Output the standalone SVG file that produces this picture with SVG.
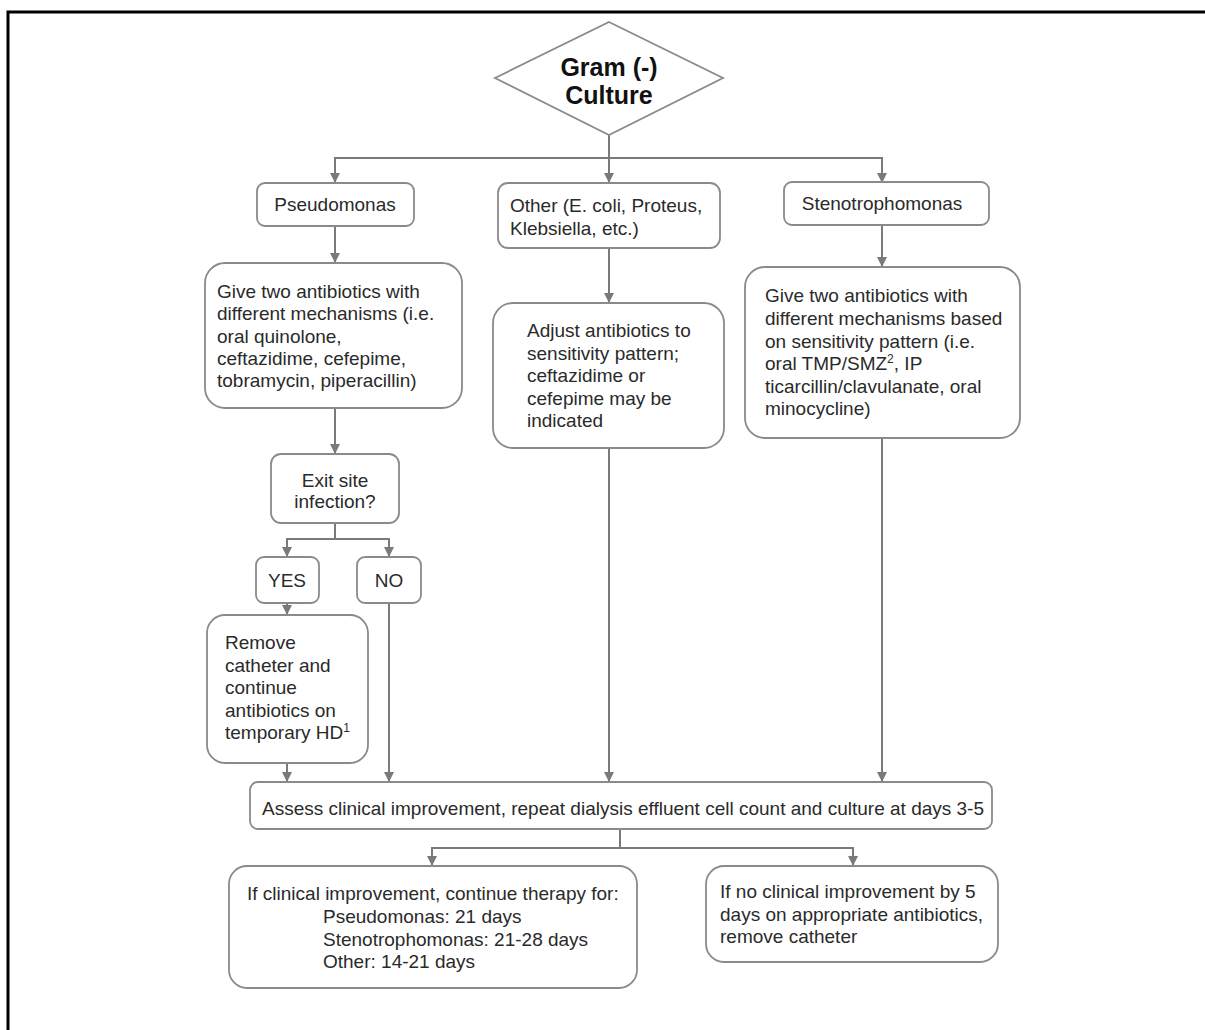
<svg xmlns="http://www.w3.org/2000/svg" width="1205" height="1030" viewBox="0 0 1205 1030">
<style>
  .box{fill:#fff;stroke:#8a8a8a;stroke-width:1.8}
  .t{font-family:"Liberation Sans",Arial,sans-serif;font-size:19px;fill:#2a2a2a}
  .c{text-anchor:middle}
  .title{font-family:"Liberation Sans",Arial,sans-serif;font-size:25px;font-weight:bold;fill:#111;text-anchor:middle}
  .sup{font-size:12px}
  .conn{fill:none;stroke:#7a7a7a;stroke-width:2}
</style>
<defs>
  <marker id="arr" markerUnits="userSpaceOnUse" markerWidth="12" markerHeight="12" refX="10" refY="6" orient="auto">
    <path d="M0,1 L10,6 L0,11 Z" fill="#7a7a7a"/>
  </marker>
</defs>
<rect width="1205" height="1030" fill="#fff"/>
<path d="M8,1030 V12 H1205" fill="none" stroke="#000" stroke-width="3"/>

<g id="connectors">
  <path class="conn" d="M609,135 V183" marker-end="url(#arr)"/>
  <path class="conn" d="M335,183 V158 H882 V183" />
  <path class="conn" d="M335,158 V183" marker-end="url(#arr)"/>
  <path class="conn" d="M882,158 V183" marker-end="url(#arr)"/>
  <path class="conn" d="M335,226 V263" marker-end="url(#arr)"/>
  <path class="conn" d="M609,248 V303" marker-end="url(#arr)"/>
  <path class="conn" d="M882,225 V267" marker-end="url(#arr)"/>
  <path class="conn" d="M335,408 V454" marker-end="url(#arr)"/>
  <path class="conn" d="M335,523 V539 H389 V557" marker-end="url(#arr)"/>
  <path class="conn" d="M335,539 H287 V557" marker-end="url(#arr)"/>
  <path class="conn" d="M287,603 V615" marker-end="url(#arr)"/>
  <path class="conn" d="M389,603 V782" marker-end="url(#arr)"/>
  <path class="conn" d="M287,763 V782" marker-end="url(#arr)"/>
  <path class="conn" d="M609,448 V782" marker-end="url(#arr)"/>
  <path class="conn" d="M882,438 V782" marker-end="url(#arr)"/>
  <path class="conn" d="M620,829 V848 H853 V866" marker-end="url(#arr)"/>
  <path class="conn" d="M620,848 H432 V866" marker-end="url(#arr)"/>
</g>

<g id="start">
  <polygon class="box" points="609,22 723,78 609,135 495,78"/>
  <text class="title" x="609" y="76">Gram (-)</text>
  <text class="title" x="609" y="104">Culture</text>
</g>

<g id="pseudomonas">
  <rect class="box" x="257" y="183" width="157" height="43" rx="8"/>
  <text class="t c" x="335" y="211">Pseudomonas</text>
</g>

<g id="other">
  <rect class="box" x="498" y="183" width="222" height="65" rx="10"/>
  <text class="t" x="510" y="212">Other (E. coli, Proteus,</text>
  <text class="t" x="510" y="235">Klebsiella, etc.)</text>
</g>

<g id="steno">
  <rect class="box" x="784" y="182" width="205" height="43" rx="8"/>
  <text class="t c" x="882" y="210">Stenotrophomonas</text>
</g>

<g id="pseudo-abx">
  <rect class="box" x="205" y="263" width="257" height="145" rx="20"/>
  <text class="t" x="217" y="298">Give two antibiotics with</text>
  <text class="t" x="217" y="320">different mechanisms (i.e.</text>
  <text class="t" x="217" y="343">oral quinolone,</text>
  <text class="t" x="217" y="365">ceftazidime, cefepime,</text>
  <text class="t" x="217" y="387">tobramycin, piperacillin)</text>
</g>

<g id="adjust">
  <rect class="box" x="493" y="303" width="231" height="145" rx="20"/>
  <text class="t" x="527" y="337">Adjust antibiotics to</text>
  <text class="t" x="527" y="360">sensitivity pattern;</text>
  <text class="t" x="527" y="382">ceftazidime or</text>
  <text class="t" x="527" y="405">cefepime may be</text>
  <text class="t" x="527" y="427">indicated</text>
</g>

<g id="steno-abx">
  <rect class="box" x="745" y="267" width="275" height="171" rx="20"/>
  <text class="t" x="765" y="302">Give two antibiotics with</text>
  <text class="t" x="765" y="325">different mechanisms based</text>
  <text class="t" x="765" y="348">on sensitivity pattern (i.e.</text>
  <text class="t" x="765" y="370">oral TMP/SMZ<tspan class="sup" dy="-7">2</tspan><tspan dy="7">, IP</tspan></text>
  <text class="t" x="765" y="393">ticarcillin/clavulanate, oral</text>
  <text class="t" x="765" y="415">minocycline)</text>
</g>

<g id="exit">
  <rect class="box" x="271" y="454" width="128" height="69" rx="10"/>
  <text class="t c" x="335" y="487">Exit site</text>
  <text class="t c" x="335" y="508">infection?</text>
</g>

<g id="yes">
  <rect class="box" x="256" y="557" width="63" height="46" rx="8"/>
  <text class="t c" x="287" y="587">YES</text>
</g>

<g id="no">
  <rect class="box" x="357" y="557" width="64" height="46" rx="8"/>
  <text class="t c" x="389" y="587">NO</text>
</g>

<g id="remove">
  <rect class="box" x="207" y="615" width="161" height="148" rx="18"/>
  <text class="t" x="225" y="649">Remove</text>
  <text class="t" x="225" y="672">catheter and</text>
  <text class="t" x="225" y="694">continue</text>
  <text class="t" x="225" y="717">antibiotics on</text>
  <text class="t" x="225" y="739">temporary HD<tspan class="sup" dy="-7">1</tspan></text>
</g>

<g id="assess">
  <rect class="box" x="250" y="782" width="742" height="47" rx="8"/>
  <text class="t" x="262" y="815">Assess clinical improvement, repeat dialysis effluent cell count and culture at days 3-5</text>
</g>

<g id="improve">
  <rect class="box" x="229" y="866" width="408" height="122" rx="18"/>
  <text class="t" x="247" y="900">If clinical improvement, continue therapy for:</text>
  <text class="t" x="323" y="923">Pseudomonas: 21 days</text>
  <text class="t" x="323" y="946">Stenotrophomonas: 21-28 days</text>
  <text class="t" x="323" y="968">Other: 14-21 days</text>
</g>

<g id="no-improve">
  <rect class="box" x="706" y="866" width="292" height="96" rx="18"/>
  <text class="t" x="720" y="898">If no clinical improvement by 5</text>
  <text class="t" x="720" y="921">days on appropriate antibiotics,</text>
  <text class="t" x="720" y="943">remove catheter</text>
</g>
</svg>
